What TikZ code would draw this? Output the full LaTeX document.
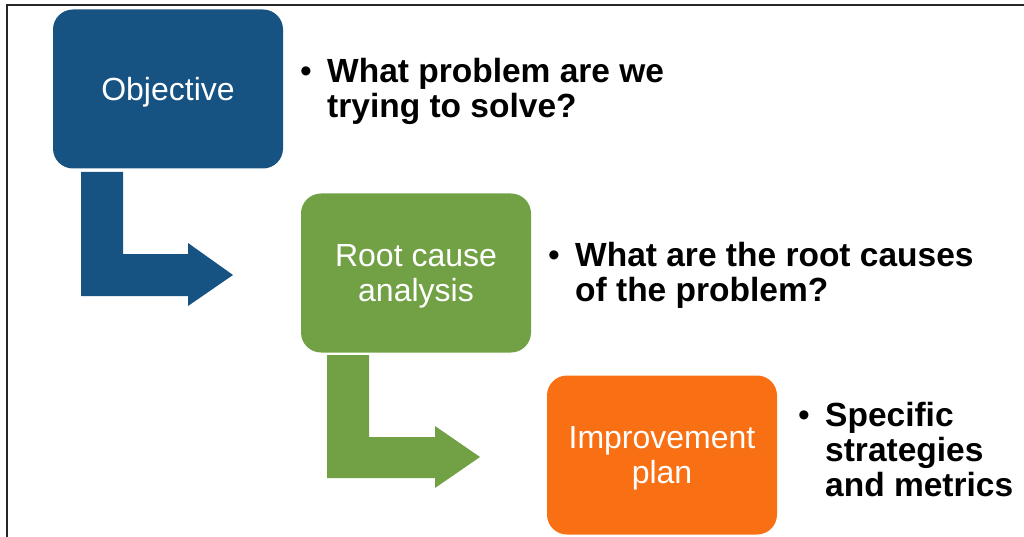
\documentclass[tikz,border=0pt]{standalone}
\usepackage{fontspec}
\setmainfont{Liberation Sans}
\definecolor{objblue}{RGB}{22,82,130}
\definecolor{rcgreen}{RGB}{114,161,69}
\definecolor{imporange}{RGB}{248,112,19}
\newcommand{\toplines}[1]{\begin{tabular}[t]{@{}l@{}}#1\end{tabular}}
\tikzset{
  stagebox/.style={rectangle, rounded corners=20pt, minimum width=230pt, minimum height=159pt,
    inner sep=0pt},
  boxtext/.style={inner sep=0pt, align=center, text=white, yshift=-3pt,
    font=\fontsize{32}{35}\selectfont},
  bullettext/.style={anchor=base west, inner sep=0pt, font=\fontsize{33.5}{35}\selectfont\bfseries},
  bulletmark/.style={anchor=base, inner sep=0pt, font=\fontsize{33.5}{35}\selectfont},
  frameline/.style={line width=2pt, black!85}
}
\begin{document}
\begin{tikzpicture}[x=1pt,y=-1pt]
\useasboundingbox (0,0) rectangle (1024,537);
% frame
\draw[frameline] (7,537) -- (7,5) -- (1024,5);
% boxes
\node[stagebox, fill=objblue] (obj) at (168,89) {};
\node[boxtext] (objt) at (obj.center) {Objective};
\node[stagebox, fill=rcgreen] (rca) at (416,273) {};
\node[boxtext] (rcat) at (rca.center) {Root cause\\analysis};
\node[stagebox, fill=imporange] (imp) at (662,455) {};
\node[boxtext] (impt) at (imp.center) {Improvement\\plan};
% bent arrows
\fill[objblue] (81,172) -- (123,172) -- (123,254) -- (188,254) -- (188,243) -- (233,275)
  -- (188,306) -- (188,296) -- (81,296) -- cycle;
\fill[rcgreen] (327,355) -- (369,355) -- (369,437) -- (435,437) -- (435,426) -- (480,457)
  -- (435,488) -- (435,478) -- (327,478) -- cycle;
% bullet texts
\node[bulletmark] (b1) at (306,83) {•};
\node[bullettext] (t1) at (327,83) {\toplines{What problem are we\\trying to solve?}};
\node[bulletmark] (b2) at (554,266) {•};
\node[bullettext] (t2) at (575,266) {\toplines{What are the root causes\\of the problem?}};
\node[bulletmark] (b3) at (804,426) {•};
\node[bullettext] (t3) at (825,426) {\toplines{Specific\\strategies\\and metrics}};
\end{tikzpicture}
\end{document}
